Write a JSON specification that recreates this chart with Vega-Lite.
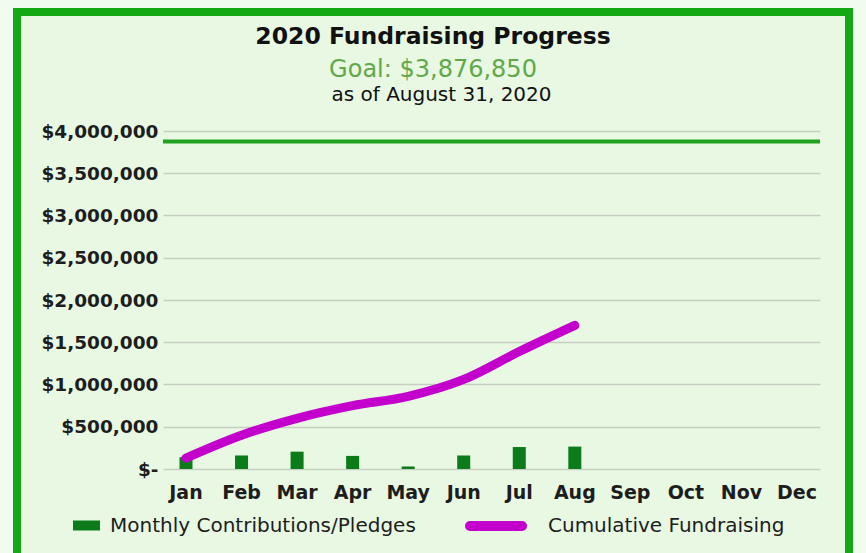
{
  "$schema": "https://vega.github.io/schema/vega-lite/v6.json",
  "width": 832,
  "height": 541,
  "autosize": {"type": "none"},
  "padding": {"left": 17, "top": 12, "right": 17, "bottom": 0},
  "background": "#f1fbee",
  "title": {
    "text": "2020 Fundraising Progress",
    "subtitle": "Goal: $3,876,850",
    "anchor": "middle",
    "frame": "group",
    "offset": -70,
    "font": "DejaVu Sans",
    "fontSize": 23.5,
    "fontWeight": "bold",
    "color": "#111111",
    "subtitleFont": "DejaVu Sans",
    "subtitleFontSize": 24,
    "subtitleColor": "#62a84a",
    "subtitlePadding": 10
  },
  "config": {
    "view": {"fill": "#e8f8e3", "stroke": "#15a815", "strokeWidth": 8, "strokeDash": [1373, 832, 541, 0], "strokeCap": "square"},
    "axis": {"labelFont": "DejaVu Sans", "labelFontWeight": "bold", "labelColor": "#1d1d1d", "domain": false, "ticks": false}
  },
  "data": {
    "values": [
      {"month": "Jan", "monthly": 140000, "cumulative": 130000},
      {"month": "Feb", "monthly": 160000, "cumulative": 400000},
      {"month": "Mar", "monthly": 205000, "cumulative": 600000},
      {"month": "Apr", "monthly": 155000, "cumulative": 750000},
      {"month": "May", "monthly": 30000, "cumulative": 860000},
      {"month": "Jun", "monthly": 160000, "cumulative": 1060000},
      {"month": "Jul", "monthly": 260000, "cumulative": 1390000},
      {"month": "Aug", "monthly": 265000, "cumulative": 1700000},
      {"month": "Sep", "monthly": null, "cumulative": null},
      {"month": "Oct", "monthly": null, "cumulative": null},
      {"month": "Nov", "monthly": null, "cumulative": null},
      {"month": "Dec", "monthly": null, "cumulative": null}
    ]
  },
  "layer": [
    {
      "mark": {"type": "bar", "width": {"band": 0.283}},
      "encoding": {
        "x": {
          "field": "month",
          "type": "nominal",
          "sort": null,
          "scale": {
            "domain": ["Jan", "Feb", "Mar", "Apr", "May", "Jun", "Jul", "Aug", "Sep", "Oct", "Nov", "Dec"],
            "range": [146, 803],
            "paddingInner": 0.172,
            "paddingOuter": 0,
            "align": 0.5
          },
          "axis": {
            "orient": "bottom",
            "offset": -84,
            "bandPosition": 0.5,
            "labelPadding": 14,
            "labelFontSize": 19,
            "labelAngle": 0,
            "labelAlign": "center",
            "grid": false,
            "title": "as of August 31, 2020",
            "titleFont": "DejaVu Sans",
            "titleFontSize": 20,
            "titleFontWeight": "normal",
            "titleColor": "#111111",
            "titleX": 424,
            "titleY": -369,
            "titleAlign": "center",
            "titleBaseline": "alphabetic",
            "titleAngle": 0
          }
        },
        "y": {
          "field": "monthly",
          "type": "quantitative",
          "title": null,
          "scale": {"domain": [-994083, 5408284], "nice": false, "zero": false},
          "axis": {
            "values": [0, 500000, 1000000, 1500000, 2000000, 2500000, 3000000, 3500000, 4000000],
            "labelExpr": "datum.value === 0 ? '$-' : '$' + format(datum.value, ',')",
            "offset": -145,
            "labelPadding": 4,
            "labelFontSize": 18.5,
            "grid": true,
            "gridColor": "#c5cec1",
            "gridWidth": 1.5
          }
        },
        "y2": {"datum": 0},
        "color": {
          "datum": "Monthly Contributions/Pledges",
          "scale": {"range": ["#0c7c1b"]},
          "legend": {
            "orient": "none",
            "legendX": 56,
            "legendY": 500,
            "title": null,
            "padding": 0,
            "symbolType": "M-1,-0.37H1V0.37H-1Z",
            "symbolSize": 729,
            "symbolStrokeWidth": 0,
            "labelOffset": 10,
            "labelLimit": 500,
            "labelFont": "DejaVu Sans",
            "labelFontSize": 20,
            "labelColor": "#1d1d1d"
          }
        }
      }
    },
    {
      "data": {"values": [{"goal": 3876850}]},
      "mark": {"type": "rule", "strokeWidth": 4, "color": "#1fa31f"},
      "encoding": {
        "y": {"field": "goal", "type": "quantitative", "title": null},
        "x": {"datum": "Jan", "type": "nominal", "bandPosition": 0, "title": null},
        "x2": {"datum": "Dec", "bandPosition": 1}
      }
    },
    {
      "mark": {"type": "line", "strokeWidth": 9, "strokeCap": "round", "interpolate": "monotone"},
      "encoding": {
        "x": {"field": "month", "type": "nominal", "sort": null},
        "y": {"field": "cumulative", "type": "quantitative", "title": null},
        "stroke": {
          "datum": "Cumulative Fundraising",
          "scale": {"range": ["#c300cc"]},
          "legend": {
            "orient": "none",
            "legendX": 448,
            "legendY": 483,
            "title": null,
            "padding": 0,
            "symbolType": "stroke",
            "symbolSize": 2704,
            "symbolStrokeWidth": 10,
            "labelOffset": 21,
            "labelLimit": 500,
            "labelFont": "DejaVu Sans",
            "labelFontSize": 20,
            "labelColor": "#1d1d1d",
            "encode": {"symbols": {"update": {"strokeCap": {"value": "round"}}}}
          }
        }
      }
    }
  ]
}
